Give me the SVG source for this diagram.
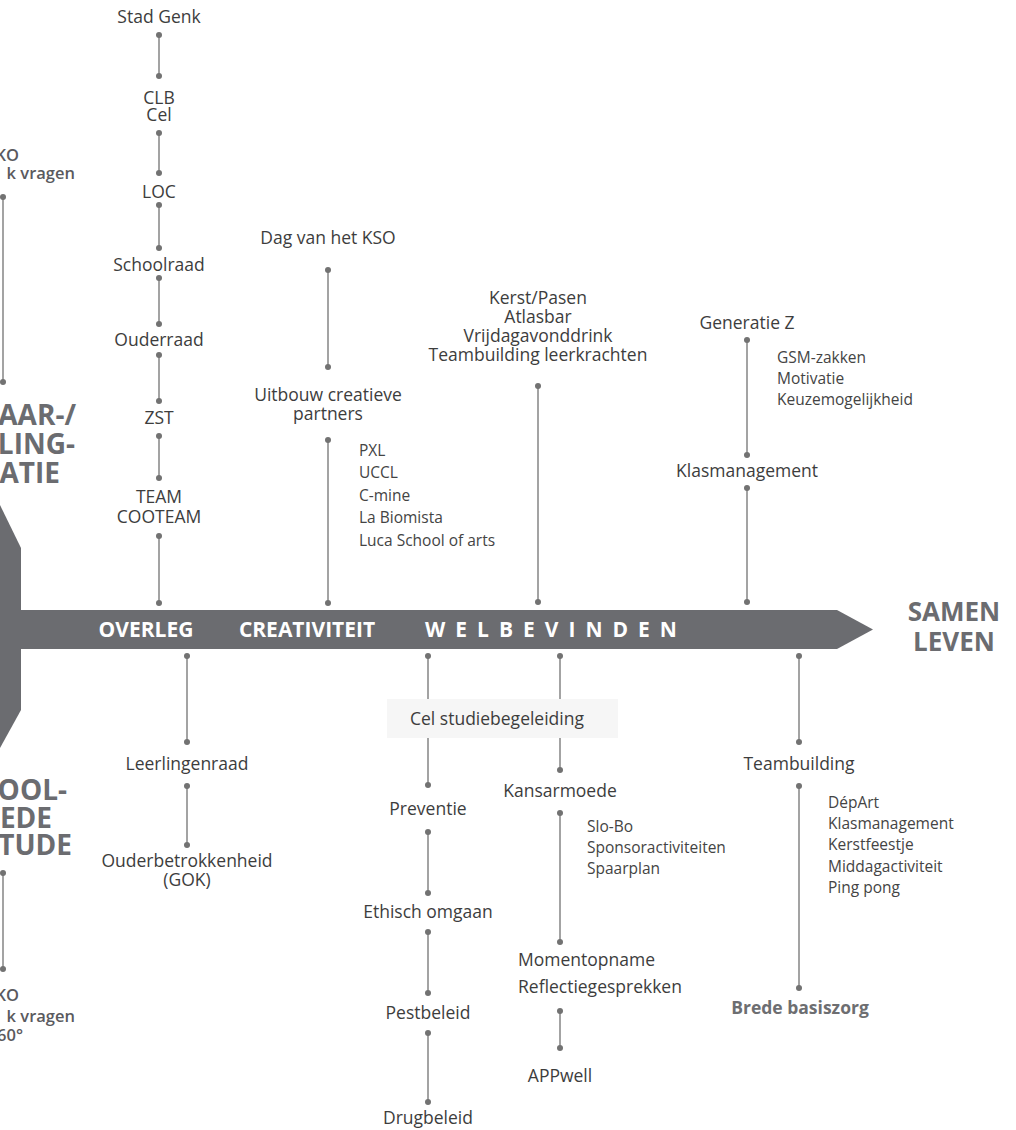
<svg xmlns="http://www.w3.org/2000/svg" width="1016" height="1130" viewBox="0 0 1016 1130">
<defs>
<style>
text{font-family:"Open Sans","Liberation Sans",sans-serif;}
.lb{font-size:17.5px;fill:#3d3d3d;text-anchor:middle;}
.lbs{font-size:17.5px;fill:#3d3d3d;text-anchor:start;}
.sm{font-size:15.5px;fill:#444;}
.big{font-size:28px;font-weight:700;fill:#6b6c70;text-anchor:end;}
.edge{font-size:16.5px;font-weight:600;fill:#5a5a5e;text-anchor:end;}
.bar{font-size:21px;font-weight:700;fill:#fff;}
.goal{font-size:26px;font-weight:700;fill:#6b6c70;text-anchor:middle;}
.conn line{stroke:#858585;stroke-width:1.5;}
.d{marker-start:url(#dot);marker-end:url(#dot);}
.ds{marker-start:url(#dot);}
.de{marker-end:url(#dot);}
</style>
<marker id="dot" markerUnits="userSpaceOnUse" markerWidth="8" markerHeight="8" refX="4" refY="4" viewBox="0 0 8 8">
<circle cx="4" cy="4" r="3" fill="#727272"/>
</marker>
</defs>
<rect width="1016" height="1130" fill="#fff"/>

<g id="axis">
<polygon points="0,610 837,610 873,629.5 837,649 0,649" fill="#6b6c70"/>
<polygon points="0,505 21,548 21,710 0,748" fill="#6b6c70"/>
<text class="bar" x="146" y="636.5" text-anchor="middle">OVERLEG</text>
<text class="bar" x="307" y="636.5" text-anchor="middle">CREATIVITEIT</text>
<text class="bar" x="425" y="636.5" letter-spacing="10">WELBEVINDEN</text>
</g>

<g id="goal"><text class="goal" x="954" y="621">SAMEN</text><text class="goal" x="954" y="651">LEVEN</text></g>

<g id="left-edge">
<text class="edge" x="19" y="161">KO</text>
<text class="edge" x="75" y="179">k vragen</text>
<text class="big" x="76" y="425">AAR-/</text>
<text class="big" x="75" y="454">LING-</text>
<text class="big" x="60" y="483">ATIE</text>
<text class="big" x="67" y="800">OOL-</text>
<text class="big" x="52" y="828">EDE</text>
<text class="big" x="72" y="855">TUDE</text>
<text class="edge" x="19" y="1001">KO</text>
<text class="edge" x="75" y="1022">k vragen</text>
<text class="edge" x="23" y="1041">60°</text>
</g>

<g class="conn" id="connectors">
<line class="d" x1="3" y1="197" x2="3" y2="382"/>
<line class="d" x1="3" y1="873" x2="3" y2="969"/>
<line class="d" x1="159" y1="35" x2="159" y2="76"/>
<line class="d" x1="159" y1="133" x2="159" y2="173"/>
<line class="d" x1="159" y1="205" x2="159" y2="248"/>
<line class="d" x1="159" y1="278" x2="159" y2="324"/>
<line class="d" x1="159" y1="355" x2="159" y2="401"/>
<line class="d" x1="159" y1="436" x2="159" y2="478"/>
<line class="d" x1="159" y1="536" x2="159" y2="603"/>
<line class="d" x1="328" y1="270" x2="328" y2="367"/>
<line class="d" x1="328" y1="440" x2="328" y2="603"/>
<line class="d" x1="538" y1="386" x2="538" y2="602"/>
<line class="d" x1="747" y1="340" x2="747" y2="455"/>
<line class="d" x1="747" y1="488" x2="747" y2="602"/>
<line class="d" x1="187" y1="656" x2="187" y2="742"/>
<line class="d" x1="187" y1="786" x2="187" y2="845"/>
<line class="ds" x1="428" y1="656" x2="428" y2="699"/>
<line class="de" x1="428" y1="738" x2="428" y2="785"/>
<line class="d" x1="428" y1="832" x2="428" y2="893"/>
<line class="d" x1="428" y1="932" x2="428" y2="993"/>
<line class="d" x1="428" y1="1033" x2="428" y2="1102"/>
<line class="ds" x1="560" y1="656" x2="560" y2="699"/>
<line class="de" x1="560" y1="738" x2="560" y2="770"/>
<line class="d" x1="560" y1="813" x2="560" y2="942"/>
<line class="d" x1="560" y1="1011" x2="560" y2="1048"/>
<line class="d" x1="799" y1="656" x2="799" y2="742"/>
<line class="d" x1="799" y1="786" x2="799" y2="988"/>
</g>

<g id="stad-genk"><text class="lb" x="159" y="23">Stad Genk</text></g>
<g id="clb-cel"><text class="lb" x="159" y="104">CLB</text><text class="lb" x="159" y="121">Cel</text></g>
<g id="loc"><text class="lb" x="159" y="198">LOC</text></g>
<g id="schoolraad"><text class="lb" x="159" y="271">Schoolraad</text></g>
<g id="ouderraad"><text class="lb" x="159" y="346">Ouderraad</text></g>
<g id="zst"><text class="lb" x="159" y="424">ZST</text></g>
<g id="team"><text class="lb" x="159" y="503">TEAM</text><text class="lb" x="159" y="523">COOTEAM</text></g>

<g id="dag-kso"><text class="lb" x="328" y="244">Dag van het KSO</text></g>
<g id="uitbouw"><text class="lb" x="328" y="401">Uitbouw creatieve</text><text class="lb" x="328" y="420">partners</text></g>
<g id="partners-list">
<text class="sm" x="359" y="455.5">PXL</text>
<text class="sm" x="359" y="478">UCCL</text>
<text class="sm" x="359" y="500.5">C-mine</text>
<text class="sm" x="359" y="523">La Biomista</text>
<text class="sm" x="359" y="545.5">Luca School of arts</text>
</g>

<g id="kerst"><text class="lb" x="538" y="304">Kerst/Pasen</text><text class="lb" x="538" y="323">Atlasbar</text><text class="lb" x="538" y="342">Vrijdagavonddrink</text><text class="lb" x="538" y="361">Teambuilding leerkrachten</text></g>

<g id="generatie-z"><text class="lb" x="747" y="329">Generatie Z</text></g>
<g id="genz-list">
<text class="sm" x="777" y="362.5">GSM-zakken</text>
<text class="sm" x="777" y="383.5">Motivatie</text>
<text class="sm" x="777" y="404.5">Keuzemogelijkheid</text>
</g>
<g id="klasmanagement-top"><text class="lb" x="747" y="477">Klasmanagement</text></g>

<g id="leerlingenraad"><text class="lb" x="187" y="770">Leerlingenraad</text></g>
<g id="ouderbetrokkenheid"><text class="lb" x="187" y="867">Ouderbetrokkenheid</text><text class="lb" x="187" y="886">(GOK)</text></g>

<g id="cel-studiebegeleiding"><rect x="387" y="699" width="231" height="39" fill="#f6f6f6"/><text class="lb" x="497" y="725">Cel studiebegeleiding</text></g>
<g id="preventie"><text class="lb" x="428" y="815">Preventie</text></g>
<g id="ethisch"><text class="lb" x="428" y="918">Ethisch omgaan</text></g>
<g id="pestbeleid"><text class="lb" x="428" y="1019">Pestbeleid</text></g>
<g id="drugbeleid"><text class="lb" x="428" y="1124">Drugbeleid</text></g>

<g id="kansarmoede"><text class="lb" x="560" y="797">Kansarmoede</text></g>
<g id="kansarmoede-list">
<text class="sm" x="587" y="831.5">Slo-Bo</text>
<text class="sm" x="587" y="852.5">Sponsoractiviteiten</text>
<text class="sm" x="587" y="873.5">Spaarplan</text>
</g>
<g id="momentopname"><text class="lbs" x="518" y="966">Momentopname</text><text class="lbs" x="518" y="993">Reflectiegesprekken</text></g>
<g id="appwell"><text class="lb" x="560" y="1082">APPwell</text></g>

<g id="teambuilding"><text class="lb" x="799" y="770">Teambuilding</text></g>
<g id="teambuilding-list">
<text class="sm" x="828" y="807.5">DépArt</text>
<text class="sm" x="828" y="828.5">Klasmanagement</text>
<text class="sm" x="828" y="849.5">Kerstfeestje</text>
<text class="sm" x="828" y="871.5">Middagactiviteit</text>
<text class="sm" x="828" y="892.5">Ping pong</text>
</g>
<g id="brede-basiszorg"><text class="lb" x="800" y="1014" style="font-weight:700;fill:#6d6e71">Brede basiszorg</text></g>
</svg>
